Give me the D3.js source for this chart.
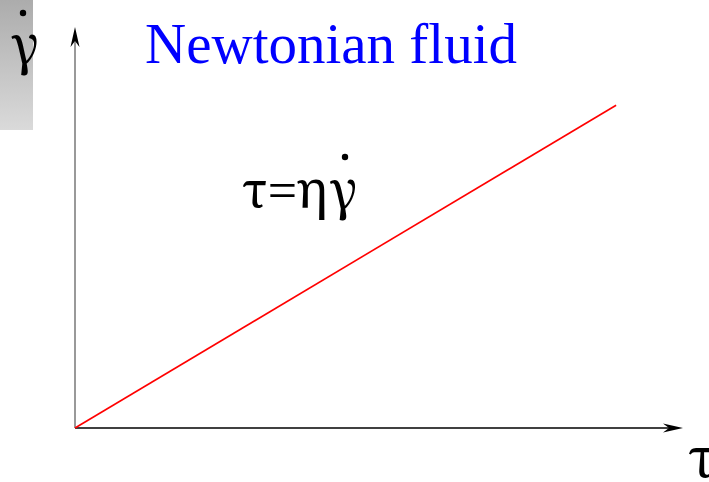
<!DOCTYPE html>
<html>
<head>
<meta charset="utf-8">
<script src="https://cdn.jsdelivr.net/npm/d3@7"></script>
<style>
  html, body { margin: 0; padding: 0; background: #fff; }
  svg { display: block; }
</style>
</head>
<body>
<script>
// Newtonian fluid: shear rate grows linearly with shear stress
const tau = [0, 8.9];          // shear stress
const gammaDot = [0, 8.05];    // shear rate
const xDomain = [0, 10];
const yDomain = [0, 10];

const W = 709, H = 482;
const svg = d3.select("body").append("svg").attr("width", W).attr("height", H);

const x = d3.scaleLinear().domain(xDomain).range([75, 683]);
const y = d3.scaleLinear().domain(yDomain).range([428, 27]);

const serif = "'Liberation Serif', 'Times New Roman', serif";
const greek = "'Noto Serif', 'DejaVu Serif', serif";

// shaded box behind the vertical-axis label
const defs = svg.append("defs");
const grad = defs.append("linearGradient").attr("id", "boxShade")
  .attr("x1", 0).attr("y1", 0).attr("x2", 0).attr("y2", 1);
grad.append("stop").attr("offset", "0%").attr("stop-color", "#acacac");
grad.append("stop").attr("offset", "100%").attr("stop-color", "#dadada");
svg.append("rect").attr("x", 0).attr("y", 0).attr("width", 33).attr("height", 130)
  .attr("fill", "url(#boxShade)");

// notched arrowhead pointing along +x
function arrowPath(len, half, notch) {
  return `M0,0 L${-len},${-half} L${-len + notch},0 L${-len},${half} Z`;
}

// x axis
svg.append("line")
  .attr("x1", x(0)).attr("y1", y(0)).attr("x2", x(10) - 6).attr("y2", y(0))
  .attr("stroke", "#000").attr("stroke-width", 1.3);
svg.append("path")
  .attr("d", arrowPath(20, 4.5, 6))
  .attr("transform", `translate(${x(10)},${y(0)})`)
  .attr("fill", "#000");

// y axis
svg.append("line")
  .attr("x1", x(0)).attr("y1", y(0)).attr("x2", x(0)).attr("y2", y(10) + 6)
  .attr("stroke", "#6e6e6e").attr("stroke-width", 1.4);
svg.append("path")
  .attr("d", arrowPath(20, 4.5, 6))
  .attr("transform", `translate(${x(0)},${y(10)}) rotate(-90)`)
  .attr("fill", "#000");

// flow curve
const pts = tau.map((t, i) => [t, gammaDot[i]]);
svg.append("path")
  .datum(pts)
  .attr("d", d3.line().x(d => x(d[0])).y(d => y(d[1])))
  .attr("fill", "none")
  .attr("stroke", "#ff0000")
  .attr("stroke-width", 1.6);

// title
svg.append("text")
  .attr("x", 145).attr("y", 63)
  .attr("font-family", serif).attr("font-size", 57)
  .attr("fill", "#0000ff")
  .text("Newtonian fluid");

// constitutive equation, glyph by glyph
const eqGlyphs = [
  { ch: "τ", cx: 255, font: greek, size: 50 },
  { ch: "=", cx: 282.5, font: serif, size: 52 },
  { ch: "η", cx: 312, font: greek, size: 52 },
  { ch: "γ", cx: 344, font: greek, size: 52 }
];
svg.append("g").selectAll("text").data(eqGlyphs).join("text")
  .attr("x", d => d.cx).attr("y", 208)
  .attr("text-anchor", "middle")
  .attr("font-family", d => d.font).attr("font-size", d => d.size)
  .attr("fill", "#000")
  .text(d => d.ch);
svg.append("circle").attr("cx", 345).attr("cy", 157).attr("r", 3.2).attr("fill", "#000");

// axis labels
svg.append("text")
  .attr("x", 25.5).attr("y", 63)
  .attr("text-anchor", "middle")
  .attr("font-family", greek).attr("font-size", 52)
  .attr("fill", "#000")
  .text("γ");
svg.append("circle").attr("cx", 23).attr("cy", 13).attr("r", 3.2).attr("fill", "#000");

svg.append("text")
  .attr("x", 702).attr("y", 477)
  .attr("text-anchor", "middle")
  .attr("font-family", greek).attr("font-size", 54)
  .attr("fill", "#000")
  .text("τ");
</script>
</body>
</html>
